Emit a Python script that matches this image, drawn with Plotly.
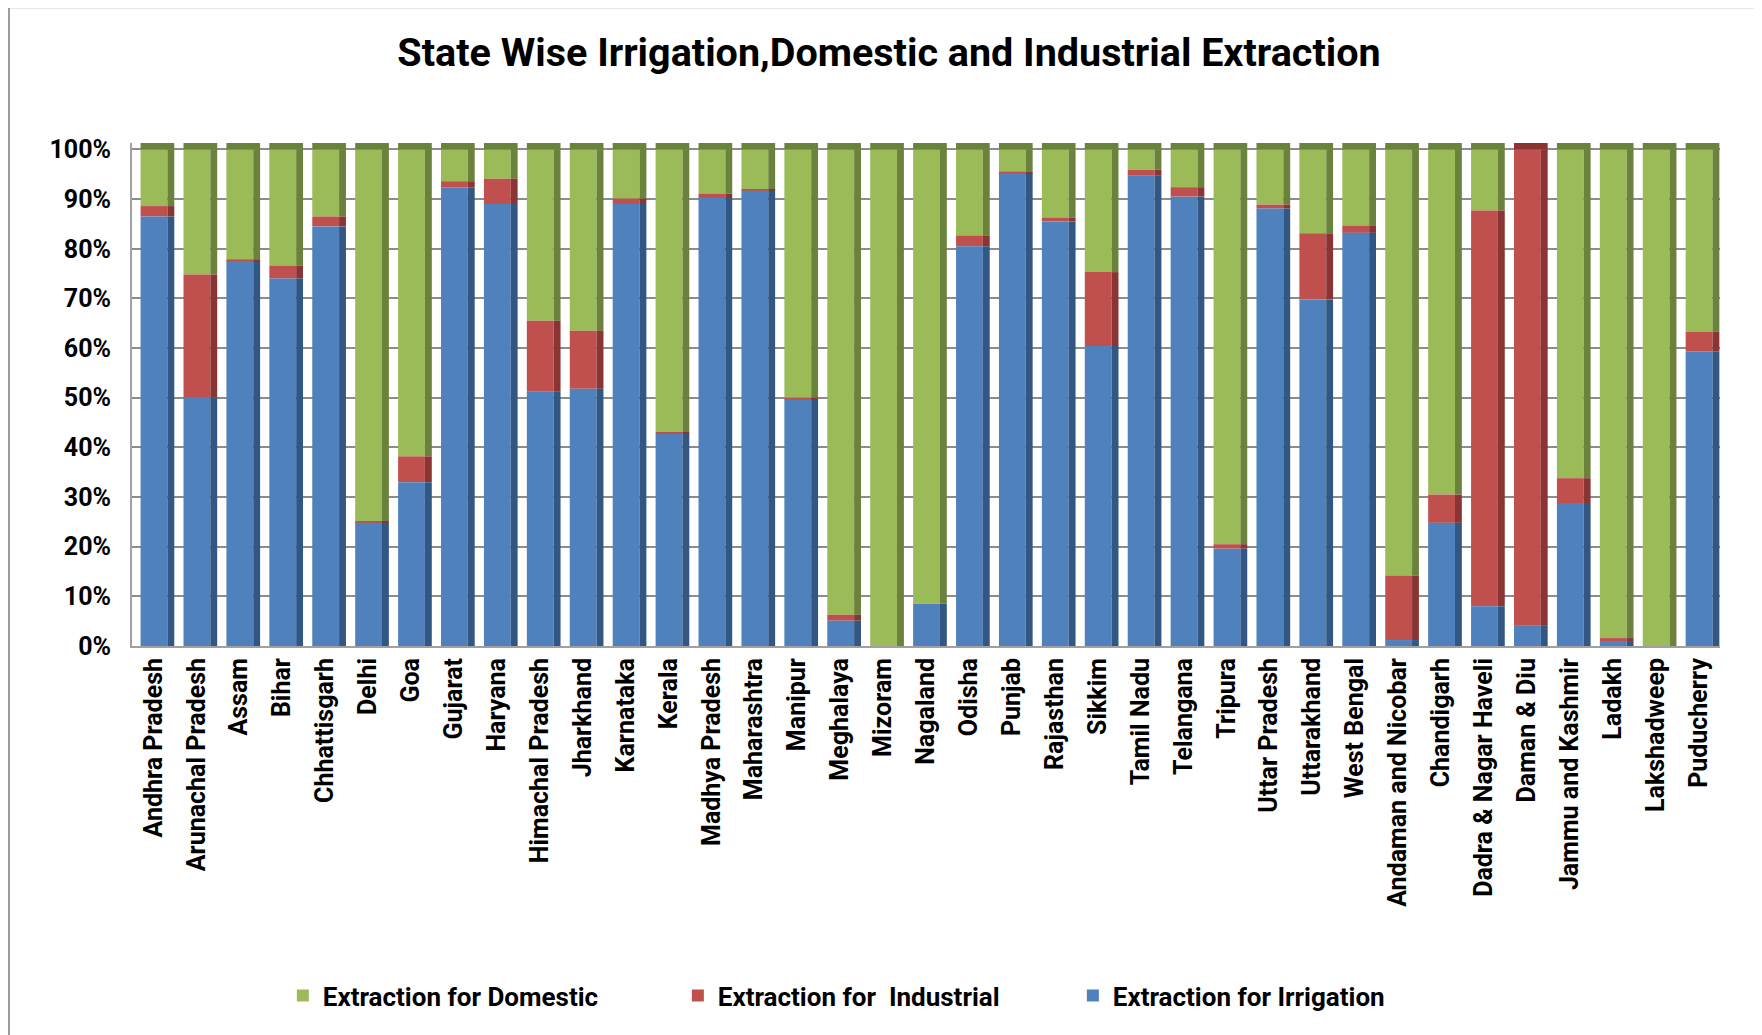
import numpy as np
import plotly.graph_objects as go
# ---------------------------------------------------------------------------

# data (percent of total extraction)
states = [
  "Andhra Pradesh", "Arunachal Pradesh", "Assam", "Bihar", "Chhattisgarh", "Delhi",
  "Goa", "Gujarat", "Haryana", "Himachal Pradesh", "Jharkhand", "Karnataka",
  "Kerala", "Madhya Pradesh", "Maharashtra", "Manipur", "Meghalaya", "Mizoram",
  "Nagaland", "Odisha", "Punjab", "Rajasthan", "Sikkim", "Tamil Nadu",
  "Telangana", "Tripura", "Uttar Pradesh", "Uttarakhand", "West Bengal",
  "Andaman and Nicobar", "Chandigarh", "Dadra & Nagar Haveli", "Daman & Diu",
  "Jammu and Kashmir", "Ladakh", "Lakshadweep", "Puducherry",
]
irrigation = [
  86.5, 50.0, 77.5, 74.0, 84.5, 24.8, 33.0, 92.4, 89.0, 51.2, 51.8, 89.0,
  42.7, 90.2, 91.7, 49.6, 5.1, 0.0, 8.5, 80.5, 95.2, 85.5, 60.4, 94.7,
  90.5, 19.6, 88.1, 69.8, 83.2, 1.2, 24.8, 8.0, 4.2, 28.8, 1.0, 0.0, 59.3,
]
industrial = [
  2.1, 24.8, 0.4, 2.6, 2.0, 0.3, 5.2, 1.2, 5.1, 14.3, 11.7, 1.1,
  0.3, 0.9, 0.2, 0.4, 1.2, 0.0, 0.0, 2.2, 0.4, 0.8, 14.9, 1.2,
  1.9, 0.9, 0.8, 13.3, 1.4, 13.0, 5.7, 79.7, 95.8, 5.0, 0.6, 0.0, 4.0,
]
domestic = list(100 - np.array(irrigation) - np.array(industrial))

# y tick labels
y_ticks = [0, 10, 20, 30, 40, 50, 60, 70, 80, 90, 100]
y_labels = ["0%", "10%", "20%", "30%", "40%", "50%", "60%", "70%", "80%", "90%", "100%"]
# ---------------------------------------------------------------------------

FONT = "Roboto, Arial"
TOP = 1.3  # height of the 3d top face, in %

series = [
  ("Extraction for Domestic", domestic, "#9BBB59", "#6B823C"),
  ("Extraction for  Industrial", industrial, "#C0504D", "#8A3533"),
  ("Extraction for Irrigation", irrigation, "#4F81BD", "#325783"),
]
irr = np.array(irrigation)
ind = np.array(industrial)
dom = np.array(domestic)
bases = {
  "Extraction for Irrigation": np.zeros(len(states)),
  "Extraction for  Industrial": irr,
  "Extraction for Domestic": irr + ind,
}
# which series sits on top of each column (for the top face colour)
top_is = {
  "Extraction for Domestic": dom > 0.05,
  "Extraction for  Industrial": (dom <= 0.05) & (ind > 0.05),
  "Extraction for Irrigation": (dom <= 0.05) & (ind <= 0.05),
}

fig = go.Figure()

# front faces
for name, vals, color, dark in series:
  fig.add_trace(go.Bar(
    x=states, y=vals, base=bases[name], name="<b>" + name + "</b>",
    marker=dict(color=color, line=dict(width=0)),
    width=0.625, offset=-0.30,
  ))

# darker side faces for the 3d look
for name, vals, color, dark in series:
  fig.add_trace(go.Bar(
    x=states, y=vals, base=bases[name], showlegend=False,
    marker=dict(color=dark, line=dict(width=0)),
    width=0.16, offset=0.325, hoverinfo="skip",
  ))

# top faces
for name, vals, color, dark in series:
  fig.add_trace(go.Bar(
    x=states, y=np.where(top_is[name], TOP, 0), base=100, showlegend=False,
    marker=dict(color=dark, line=dict(width=0)),
    width=0.785, offset=-0.30, hoverinfo="skip",
  ))

# custom layout
fig.update_layout(
  width=1762, height=1035,
  barmode="overlay",
  paper_bgcolor="white", plot_bgcolor="white",
  font=dict(family=FONT, color="black"),
  title=dict(
    text="<b>State Wise Irrigation,Domestic and Industrial Extraction</b>",
    x=0.5, xanchor="center", y=0.957, yanchor="middle",
    font=dict(size=39.5),
  ),
  margin=dict(l=124, r=50, t=135, b=397),
  legend=dict(
    orientation="h", yanchor="middle", y=-0.695, xanchor="left", x=0.095,
    font=dict(size=26), traceorder="normal", itemwidth=30,
    entrywidth=350, entrywidthmode="pixels",
  ),
  shapes=[dict(
    type="rect", xref="paper", yref="paper",
    x0=-0.0775, x1=1.05, y0=-0.82, y1=1.27,
    line=dict(color="#9A9A9A", width=2),
  )],
)

fig.update_xaxes(
  tickangle=-90, tickfont=dict(size=25, family=FONT),
  tickprefix="<b>", ticksuffix="</b>",
  range=[-0.5, len(states) - 0.5], showline=True, linecolor="#A0A0A0", linewidth=2,
  ticks="",
)
fig.update_yaxes(
  range=[0, 100 + TOP], tickvals=y_ticks, ticktext=["<b>" + t + "</b>" for t in y_labels],
  tickfont=dict(size=25), gridcolor="#8C8C8C", gridwidth=1.5, ticklabelstandoff=14,
  showline=True, linecolor="#A0A0A0", linewidth=2, zeroline=False,
)

fig.write_html("out.html")
